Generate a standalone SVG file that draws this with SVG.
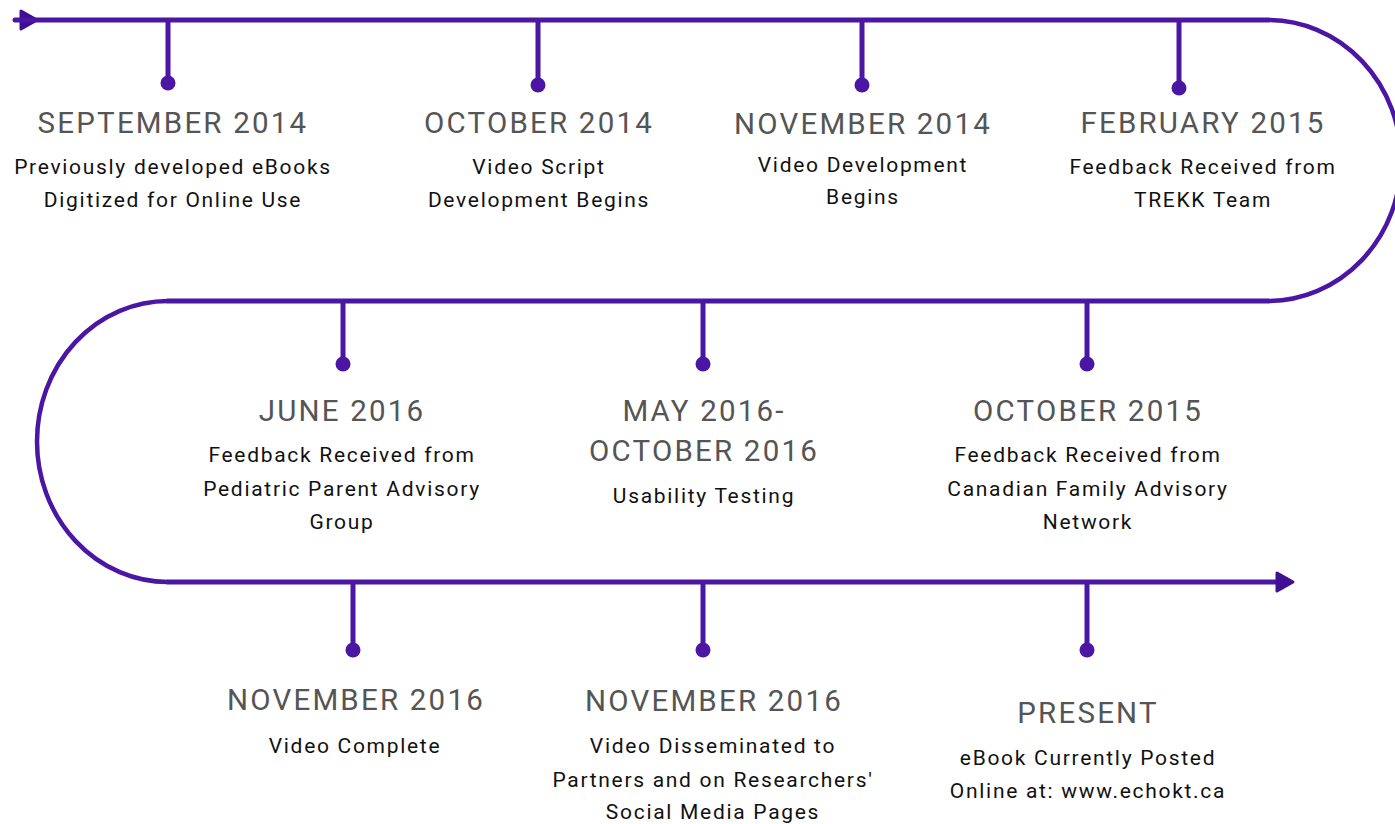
<svg xmlns="http://www.w3.org/2000/svg" width="1395" height="824" viewBox="0 0 1395 824">
<style>
.ln{fill:none;stroke:#4b16a3;stroke-width:5;stroke-linecap:round}
.arc{fill:none;stroke:#4b16a3;stroke-width:4.5}
.tk{stroke:#4b16a3;stroke-width:5}
.dt{fill:#4b16a3}
.h{font-family:Roboto,"Liberation Sans",sans-serif;font-size:29.5px;fill:#555555;letter-spacing:2.2px;text-anchor:middle}
.b{font-family:Roboto,"Liberation Sans",sans-serif;font-size:21px;fill:#111111;letter-spacing:1.7px;text-anchor:middle}
</style>
<defs>
<marker id="ah" viewBox="0 0 20 22" refX="3" refY="11" markerWidth="20" markerHeight="22" orient="auto" markerUnits="userSpaceOnUse" overflow="visible">
<path d="M2,2 L18,11 L2,20 Z" fill="#3f0f94" stroke="#3f0f94" stroke-width="3" stroke-linejoin="round"/>
</marker>
</defs>
<g id="connectors">
<line class="ln" x1="15" y1="20" x2="22" y2="20" marker-end="url(#ah)"/>
<line class="ln" x1="22" y1="20" x2="1268" y2="20"/>
<path class="arc" d="M1268,20 A133,140.5 0 0 1 1268,301"/>
<line class="ln" x1="1268" y1="301" x2="168" y2="301"/>
<path class="arc" d="M168,301 A131,140.5 0 0 0 168,582"/>
<line class="ln" x1="168" y1="582" x2="1278" y2="582" marker-end="url(#ah)"/>
</g>
<g id="n1"><line class="tk" x1="168" y1="20" x2="168" y2="83"/><circle class="dt" cx="168" cy="83" r="7.5"/>
<text class="h" x="173" y="133">SEPTEMBER 2014</text><text class="b" x="173" y="174">Previously developed eBooks</text><text class="b" x="173" y="207">Digitized for Online Use</text></g>
<g id="n2"><line class="tk" x1="538" y1="20" x2="538" y2="85"/><circle class="dt" cx="538" cy="85" r="7.5"/>
<text class="h" x="539" y="133">OCTOBER 2014</text><text class="b" x="539" y="174">Video Script</text><text class="b" x="539" y="207">Development Begins</text></g>
<g id="n3"><line class="tk" x1="862" y1="20" x2="862" y2="85"/><circle class="dt" cx="862" cy="85" r="7.5"/>
<text class="h" x="863" y="134">NOVEMBER 2014</text><text class="b" x="863" y="172">Video Development</text><text class="b" x="863" y="204">Begins</text></g>
<g id="n4"><line class="tk" x1="1179" y1="20" x2="1179" y2="88"/><circle class="dt" cx="1179" cy="88" r="7.5"/>
<text class="h" x="1203" y="133">FEBRUARY 2015</text><text class="b" x="1203" y="174">Feedback Received from</text><text class="b" x="1203" y="207">TREKK Team</text></g>
<g id="n5"><line class="tk" x1="343" y1="301" x2="343" y2="364"/><circle class="dt" cx="343" cy="364" r="7.5"/>
<text class="h" x="342" y="421">JUNE 2016</text><text class="b" x="342" y="462">Feedback Received from</text><text class="b" x="342" y="496">Pediatric Parent Advisory</text><text class="b" x="342" y="529">Group</text></g>
<g id="n6"><line class="tk" x1="703" y1="301" x2="703" y2="364"/><circle class="dt" cx="703" cy="364" r="7.5"/>
<text class="h" x="704" y="421">MAY 2016-</text><text class="h" x="704" y="461">OCTOBER 2016</text><text class="b" x="704" y="503">Usability Testing</text></g>
<g id="n7"><line class="tk" x1="1087" y1="301" x2="1087" y2="364"/><circle class="dt" cx="1087" cy="364" r="7.5"/>
<text class="h" x="1088" y="421">OCTOBER 2015</text><text class="b" x="1088" y="462">Feedback Received from</text><text class="b" x="1088" y="496">Canadian Family Advisory</text><text class="b" x="1088" y="529">Network</text></g>
<g id="n8"><line class="tk" x1="353" y1="582" x2="353" y2="650"/><circle class="dt" cx="353" cy="650" r="7.5"/>
<text class="h" x="356" y="710">NOVEMBER 2016</text><text class="b" x="355" y="753">Video Complete</text></g>
<g id="n9"><line class="tk" x1="703" y1="582" x2="703" y2="650"/><circle class="dt" cx="703" cy="650" r="7.5"/>
<text class="h" x="714" y="711">NOVEMBER 2016</text><text class="b" x="713" y="753">Video Disseminated to</text><text class="b" x="713" y="787">Partners and on Researchers'</text><text class="b" x="713" y="819">Social Media Pages</text></g>
<g id="n10"><line class="tk" x1="1087" y1="582" x2="1087" y2="650"/><circle class="dt" cx="1087" cy="650" r="7.5"/>
<text class="h" x="1088" y="723">PRESENT</text><text class="b" x="1088" y="765">eBook Currently Posted</text><text class="b" x="1088" y="798">Online at: www.echokt.ca</text></g>
</svg>
